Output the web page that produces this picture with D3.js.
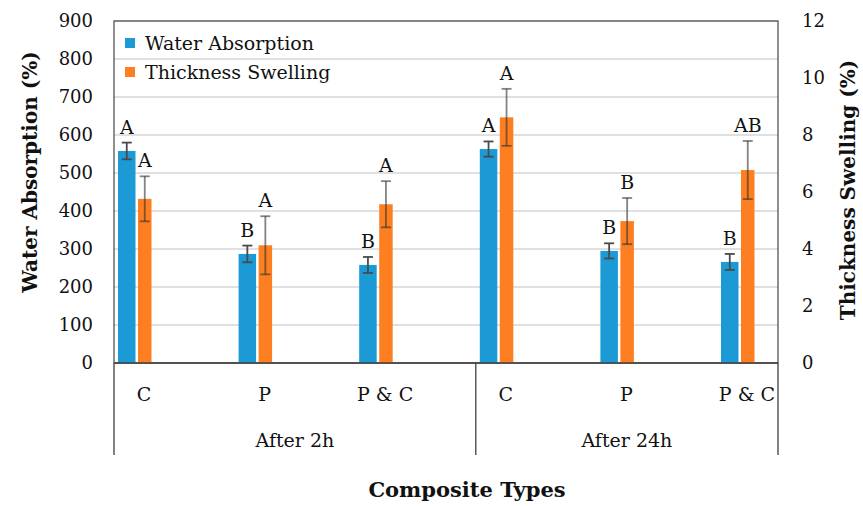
<!DOCTYPE html>
<html>
<head>
<meta charset="utf-8">
<script src="https://cdn.jsdelivr.net/npm/d3@7"></script>
<style>
  body { margin: 0; background: #fff; }
  text { font-family: "DejaVu Serif", serif; fill: #111; }
</style>
</head>
<body>
<div id="chart"></div>
<script>
// data
var catKeys = ["2h-C", "2h-P", "2h-PC", "24h-C", "24h-P", "24h-PC"];
var typeLabels = ["C", "P", "P & C", "C", "P", "P & C"];
var groups = ["After 2h", "After 24h"];
var groupCats = [["2h-C", "2h-P", "2h-PC"], ["24h-C", "24h-P", "24h-PC"]];

var waterAbs = [558, 287, 258, 563, 295, 266];
var waterAbsErr = [22, 22, 21, 20, 20, 21];
var waterAbsLetters = ["A", "B", "B", "A", "B", "B"];

var swelling = [5.76, 4.13, 5.57, 8.62, 4.98, 6.77];
var swellingErr = [0.79, 1.02, 0.81, 1.0, 0.81, 1.02];
var swellingLetters = ["A", "A", "A", "A", "B", "AB"];

var leftTicks = [0, 100, 200, 300, 400, 500, 600, 700, 800, 900];
var rightTicks = [0, 2, 4, 6, 8, 10, 12];

var seriesNames = ["Water Absorption", "Thickness Swelling"];
var seriesColors = ["#1b9ad6", "#fd7f22"];

var svgWidth = 863;
var svgHeight = 506;
var plot = { left: 114, right: 778, top: 21, bottom: 363 };

var svg = d3.select("#chart")
  .append("svg")
  .attr("width", svgWidth)
  .attr("height", svgHeight);

var x = d3.scalePoint()
  .domain(catKeys)
  .range([plot.left + 4, plot.right - 57]);

var yLeft = d3.scaleLinear()
  .domain([0, 900])
  .range([plot.bottom, plot.top]);

var yRight = d3.scaleLinear()
  .domain([0, 12])
  .range([plot.bottom, plot.top]);

var blueW = 17.5, orangeOff = 20, orangeW = 13.5;

// gridlines
svg.append("g").selectAll("line")
  .data(leftTicks)
  .enter()
  .append("line")
  .attr("x1", plot.left)
  .attr("x2", plot.right)
  .attr("y1", d => yLeft(d))
  .attr("y2", d => yLeft(d))
  .attr("stroke", "#d6d6d6")
  .attr("stroke-width", 1.5);

// axes (labels only)
var leftAxis = svg.append("g")
  .attr("transform", `translate(${plot.left}, 0)`)
  .call(d3.axisLeft(yLeft).tickValues(leftTicks).tickSize(0).tickPadding(21));
leftAxis.select(".domain").remove();
leftAxis.selectAll("text")
  .attr("font-family", "DejaVu Serif")
  .attr("font-size", "18px")
  .attr("fill", "#111");

var rightAxis = svg.append("g")
  .attr("transform", `translate(${plot.right}, 0)`)
  .call(d3.axisRight(yRight).tickValues(rightTicks).tickSize(0).tickPadding(24));
rightAxis.select(".domain").remove();
rightAxis.selectAll("text")
  .attr("font-family", "DejaVu Serif")
  .attr("font-size", "18px")
  .attr("fill", "#111");

// plot border
svg.append("rect")
  .attr("x", plot.left)
  .attr("y", plot.top)
  .attr("width", plot.right - plot.left)
  .attr("height", plot.bottom - plot.top)
  .attr("fill", "none")
  .attr("stroke", "#555")
  .attr("stroke-width", 1.3);

// bars
svg.append("g").selectAll("rect")
  .data(catKeys)
  .enter()
  .append("rect")
  .attr("x", d => x(d))
  .attr("width", blueW)
  .attr("y", (d, i) => yLeft(waterAbs[i]))
  .attr("height", (d, i) => plot.bottom - yLeft(waterAbs[i]))
  .attr("fill", seriesColors[0]);

svg.append("g").selectAll("rect")
  .data(catKeys)
  .enter()
  .append("rect")
  .attr("x", d => x(d) + orangeOff)
  .attr("width", orangeW)
  .attr("y", (d, i) => yRight(swelling[i]))
  .attr("height", (d, i) => plot.bottom - yRight(swelling[i]))
  .attr("fill", seriesColors[1]);

// error bars
function errorBars(vals, errs, scale, offset, color, opacity) {
  var g = svg.append("g")
    .attr("stroke", color)
    .attr("stroke-width", 1.8)
    .attr("stroke-opacity", opacity);
  catKeys.forEach(function(k, i) {
    var cx = x(k) + offset;
    var top = scale(vals[i] + errs[i]);
    var bot = scale(vals[i] - errs[i]);
    g.append("line").attr("x1", cx).attr("x2", cx).attr("y1", top).attr("y2", bot);
    g.append("line").attr("x1", cx - 5).attr("x2", cx + 5).attr("y1", top).attr("y2", top);
    g.append("line").attr("x1", cx - 5).attr("x2", cx + 5).attr("y1", bot).attr("y2", bot);
  });
}
errorBars(waterAbs, waterAbsErr, yLeft, blueW / 2, "#4a4a4a", 1);
errorBars(swelling, swellingErr, yRight, orangeOff + orangeW / 2, "#303030", 0.6);

// significance letters
svg.append("g").selectAll("text")
  .data(catKeys)
  .enter()
  .append("text")
  .attr("x", d => x(d) + blueW / 2)
  .attr("y", (d, i) => yLeft(waterAbs[i] + waterAbsErr[i]) - 9)
  .attr("text-anchor", "middle")
  .attr("font-size", "19px")
  .text((d, i) => waterAbsLetters[i]);

svg.append("g").selectAll("text")
  .data(catKeys)
  .enter()
  .append("text")
  .attr("x", d => x(d) + orangeOff + orangeW / 2)
  .attr("y", (d, i) => yRight(swelling[i] + swellingErr[i]) - 9)
  .attr("text-anchor", "middle")
  .attr("font-size", "19px")
  .text((d, i) => swellingLetters[i]);

// category axis
var axisG = svg.append("g").attr("stroke", "#404040").attr("stroke-width", 1.3);
axisG.append("line")
  .attr("x1", plot.left).attr("x2", plot.right)
  .attr("y1", plot.bottom).attr("y2", plot.bottom);

var dividers = [plot.left, x(groupCats[1][0]) - 4, plot.right];
axisG.selectAll(".div")
  .data(dividers)
  .enter()
  .append("line")
  .attr("x1", d => d).attr("x2", d => d)
  .attr("y1", plot.bottom).attr("y2", 455);

svg.append("g").selectAll("text")
  .data(catKeys)
  .enter()
  .append("text")
  .attr("x", d => x(d) + 26)
  .attr("y", 401)
  .attr("text-anchor", "middle")
  .attr("font-size", "19px")
  .text((d, i) => typeLabels[i]);

svg.append("g").selectAll("text")
  .data(groups)
  .enter()
  .append("text")
  .attr("x", (d, i) => (dividers[i] + dividers[i + 1]) / 2)
  .attr("y", 447)
  .attr("text-anchor", "middle")
  .attr("font-size", "19px")
  .text(d => d);

// axis titles
svg.append("text")
  .attr("transform", "translate(37, 172) rotate(-90)")
  .attr("text-anchor", "middle")
  .attr("font-size", "20px")
  .attr("font-weight", "bold")
  .text("Water Absorption (%)");

svg.append("text")
  .attr("transform", "translate(855, 190) rotate(-90)")
  .attr("text-anchor", "middle")
  .attr("font-size", "20px")
  .attr("font-weight", "bold")
  .text("Thickness Swelling (%)");

svg.append("text")
  .attr("x", 467)
  .attr("y", 497)
  .attr("text-anchor", "middle")
  .attr("font-size", "21px")
  .attr("font-weight", "bold")
  .text("Composite Types");

// legend
var legend = svg.append("g").selectAll("g")
  .data(seriesNames)
  .enter()
  .append("g")
  .attr("transform", (d, i) => `translate(125, ${38 + i * 29})`);
legend.append("rect")
  .attr("width", 10)
  .attr("height", 10)
  .attr("fill", (d, i) => seriesColors[i]);
legend.append("text")
  .attr("x", 20)
  .attr("y", 12)
  .attr("font-size", "19px")
  .text(d => d);
</script>
</body>
</html>
